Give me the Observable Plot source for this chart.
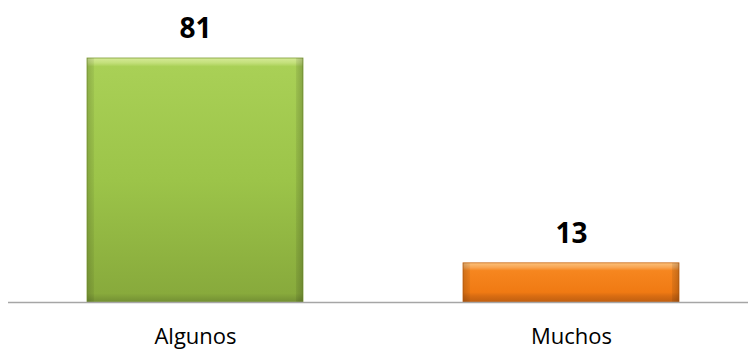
<!DOCTYPE html>
<html>
<head>
<meta charset="utf-8">
<script src="https://cdn.jsdelivr.net/npm/d3@7"></script>
<script src="https://cdn.jsdelivr.net/npm/@observablehq/plot@0.6"></script>
<style>
  html, body { margin: 0; padding: 0; background: #fff; }
  #chart svg { display: block; }
</style>
</head>
<body>
<div id="chart"></div>
<script>
const categories = ["Algunos", "Muchos"];
const values = [81, 13];
const fills = ["url(#gGreen)", "url(#gOrange)"];
const strokes = ["#7e9d36", "#c9640f"];

const data = categories.map((c, i) => ({cat: c, value: values[i], fill: fills[i], stroke: strokes[i]}));

const defs = () => {
  const g = d3.create("svg:defs");
  g.html(`
    <linearGradient id="gGreen" x1="0" y1="0" x2="0" y2="1">
      <stop offset="0" stop-color="#d6ea98"/>
      <stop offset="0.02" stop-color="#c3e07a"/>
      <stop offset="0.035" stop-color="#a9d056"/>
      <stop offset="0.5" stop-color="#9cc449"/>
      <stop offset="0.965" stop-color="#88aa3c"/>
      <stop offset="1" stop-color="#738f33"/>
    </linearGradient>
    <linearGradient id="gOrange" x1="0" y1="0" x2="0" y2="1">
      <stop offset="0" stop-color="#fbc27c"/>
      <stop offset="0.12" stop-color="#f9a450"/>
      <stop offset="0.2" stop-color="#f6861f"/>
      <stop offset="0.75" stop-color="#f07a13"/>
      <stop offset="0.85" stop-color="#d86c12"/>
      <stop offset="1" stop-color="#c05f10"/>
    </linearGradient>
    <linearGradient id="gEdge" x1="0" y1="0" x2="1" y2="0">
      <stop offset="0" stop-color="#000" stop-opacity="0.16"/>
      <stop offset="0.03" stop-color="#000" stop-opacity="0.06"/>
      <stop offset="0.035" stop-color="#000" stop-opacity="0"/>
      <stop offset="0.965" stop-color="#000" stop-opacity="0"/>
      <stop offset="0.97" stop-color="#000" stop-opacity="0.08"/>
      <stop offset="1" stop-color="#000" stop-opacity="0.2"/>
    </linearGradient>
  `);
  return g.node();
};

const chart = Plot.plot({
  width: 748,
  height: 350,
  marginLeft: 8,
  marginRight: 0,
  marginTop: 58,
  marginBottom: 48,
  style: {fontFamily: "'Open Sans', sans-serif", color: "#000", background: "#fff"},
  x: {domain: categories, range: [8, 758], paddingInner: 0.426, paddingOuter: 0.21, label: null},
  y: {domain: [0, 81], axis: null},
  marks: [
    defs,
    ...data.map(d => Plot.barY([d], {x: "cat", y: "value", fill: d.fill, stroke: d.stroke, strokeWidth: 0.8})),
    Plot.barY(data, {x: "cat", y: "value", fill: "url(#gEdge)"}),
    Plot.ruleY([0], {stroke: "#a6a6a6", strokeWidth: 1.6}),
    Plot.text(data, {x: "cat", y: "value", text: d => String(d.value), dy: -29, fontSize: 28, fontWeight: "bold", fill: "#000"}),
    Plot.axisX({tickSize: 0, tickPadding: 26, fontSize: 22, label: null})
  ]
});
document.getElementById("chart").appendChild(chart);
</script>
</body>
</html>
